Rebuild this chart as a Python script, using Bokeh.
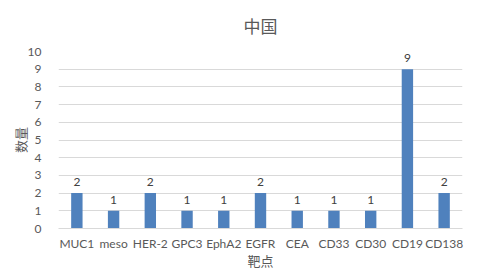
from bokeh.plotting import figure
from bokeh.models import ColumnDataSource, Title, Range1d, FixedTicker
from bokeh.core.properties import value
from bokeh.embed import file_html
from bokeh.resources import INLINE

categories = ["MUC1", "meso", "HER-2", "GPC3", "EphA2", "EGFR", "CEA", "CD33", "CD30", "CD19", "CD138"]
counts = [2, 1, 2, 1, 1, 2, 1, 1, 1, 9, 2]
y_ticks = [0, 1, 2, 3, 4, 5, 6, 7, 8, 9, 10]
title_text = "中国"

src = ColumnDataSource(dict(cat=categories, v=counts, lbl=[str(c) for c in counts]))

p = figure(width=480, height=278, x_range=categories, y_range=Range1d(0, 10),
           output_backend="svg", toolbar_location=None,
           min_border_left=58, min_border_right=18, min_border_top=51, min_border_bottom=50)
p.title = None
p.outline_line_color = None
p.background_fill_color = "white"
p.border_fill_color = "white"

p.vbar(x="cat", top="v", width=0.31, source=src, color="#4f81bd", line_color=None)
p.text(x="cat", y="v", text="lbl", source=src, text_align="center", text_baseline="bottom",
       y_offset=-7, text_font=value("Lato"), text_font_size="12px", text_color="#404040")

p.yaxis.ticker = FixedTicker(ticks=y_ticks)
p.ygrid.grid_line_color = "#d9d9d9"
p.xgrid.grid_line_color = None
for ax in [p.xaxis[0], p.yaxis[0]]:
    ax.major_tick_line_color = None
    ax.minor_tick_line_color = None
    ax.major_label_text_font = "Lato"
    ax.major_label_text_font_size = "12px"
    ax.major_label_text_color = "#595959"
    ax.axis_label_text_font = "Noto Sans CJK SC"
    ax.axis_label_text_font_size = "13px"
    ax.axis_label_text_color = "#595959"
    ax.axis_label_text_font_style = "normal"
p.yaxis.axis_line_color = None
p.xaxis.axis_line_color = "#d9d9d9"
p.xaxis.axis_label = "靶点"
p.yaxis.axis_label = "数量"
p.xaxis.major_label_standoff = 1
p.yaxis.major_label_standoff = 11
p.xaxis.axis_label_standoff = -3
p.yaxis.axis_label_standoff = -5

p.add_layout(Title(text=title_text, align="center", vertical_align="top",
                   text_font="Noto Sans CJK SC", text_font_size="17px",
                   text_color="#595959", text_font_style="normal",
                   offset=0, standoff=23), "above")

open("out.html", "w").write(file_html(p, INLINE))
